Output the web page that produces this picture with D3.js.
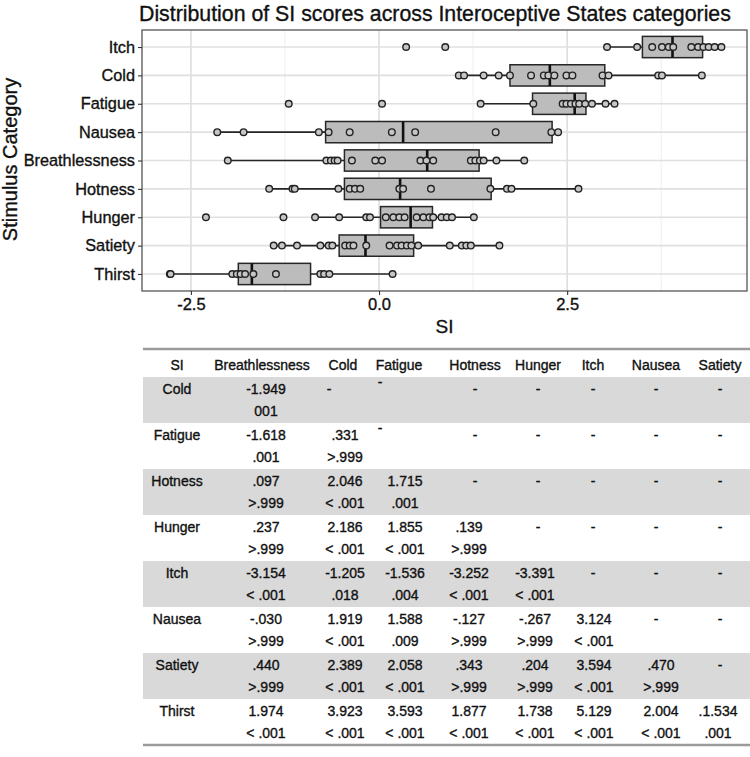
<!DOCTYPE html>
<html>
<head>
<meta charset="utf-8">
<script src="https://cdn.jsdelivr.net/npm/d3@7"></script>
<style>
  html, body { margin: 0; padding: 0; background: #ffffff; }
  svg { display: block; font-family: "Liberation Sans", Arial, sans-serif; }
  svg text { stroke: #111111; stroke-width: 0.35px; }
</style>
</head>
<body>
<svg id="chart" width="750" height="757"></svg>
<script>
// ---------------- DATA ----------------
const categories = ["Itch", "Cold", "Fatigue", "Nausea", "Breathlessness", "Hotness", "Hunger", "Satiety", "Thirst"];

// box statistics per category (same order as categories)
const boxQ1     = [3.50, 1.74, 2.04, -0.71, -0.46, -0.46, 0.02, -0.53, -1.87];
const boxMedian = [3.90, 2.27, 2.60,  0.32,  0.64,  0.28, 0.42, -0.18, -1.69];
const boxQ3     = [4.30, 3.00, 2.75,  2.30,  1.33,  1.49, 0.71,  0.46, -0.91];
const whiskerLo = [3.03, 1.06, 1.35, -2.15, -2.01, -1.46, -0.85, -1.40, -2.78];
const whiskerHi = [4.56, 4.29, 3.13,  2.38,  1.93,  2.65, 1.26,  1.60,  0.18];

// individual SI scores
const itchPts    = [0.36, 0.88, 3.03, 3.43, 3.63, 3.76, 3.85, 3.91, 4.15, 4.24, 4.31, 4.38, 4.46, 4.55];
const coldPts    = [1.06, 1.13, 1.39, 1.59, 1.74, 2.02, 2.19, 2.25, 2.33, 2.49, 2.57, 2.97, 3.05, 3.71, 3.76, 4.29];
const fatiguePts = [-1.20, 0.04, 1.35, 2.05, 2.44, 2.49, 2.55, 2.61, 2.66, 2.74, 2.83, 3.01, 3.13];
const nauseaPts  = [-2.15, -1.80, -0.80, -0.67, -0.39, 0.17, 0.48, 1.55, 2.29, 2.38];
const breathPts  = [-2.01, -0.70, -0.64, -0.59, -0.55, -0.36, -0.05, 0.04, 0.55, 0.63, 0.72, 1.22, 1.28, 1.34, 1.39, 1.56, 1.93];
const hotnessPts = [-1.46, -1.15, -1.12, -0.54, -0.39, -0.32, -0.25, 0.27, 0.32, 0.69, 1.48, 1.70, 1.76, 2.65];
const hungerPts  = [-2.30, -1.27, -0.85, -0.53, -0.17, -0.12, 0.09, 0.19, 0.27, 0.34, 0.50, 0.59, 0.67, 0.72, 0.83, 0.90, 0.97, 1.26];
const satietyPts = [-1.40, -1.29, -1.09, -0.78, -0.67, -0.62, -0.45, -0.39, -0.34, -0.17, 0.14, 0.24, 0.30, 0.37, 0.43, 0.52, 0.94, 1.10, 1.16, 1.22, 1.60];
const thirstPts  = [-2.78, -2.77, -1.95, -1.89, -1.84, -1.78, -1.67, -1.37, -0.78, -0.73, -0.66, 0.18];
const pointsByCategory = [itchPts, coldPts, fatiguePts, nauseaPts, breathPts, hotnessPts, hungerPts, satietyPts, thirstPts];

const xTicks = [-2.5, 0, 2.5, 5];
const xTickLabels = ["-2.5", "0.0", "2.5", "5.0"];
const xMinorTicks = [-3.75, -1.25, 1.25, 3.75];

const titleText = "Distribution of SI scores across Interoceptive States categories";
const xTitle = "SI";
const yTitle = "Stimulus Category";

// pairwise comparison table
const tableCorner = "SI";
const tableCols = ["Breathlessness", "Cold", "Fatigue", "Hotness", "Hunger", "Itch", "Nausea", "Satiety"];
const tableRows = ["Cold", "Fatigue", "Hotness", "Hunger", "Itch", "Nausea", "Satiety", "Thirst"];
const tableStats = [
  ["-1.949", "-", "-", "-", "-", "-", "-", "-"],
  ["-1.618", ".331", "-", "-", "-", "-", "-", "-"],
  [".097", "2.046", "1.715", "-", "-", "-", "-", "-"],
  [".237", "2.186", "1.855", ".139", "-", "-", "-", "-"],
  ["-3.154", "-1.205", "-1.536", "-3.252", "-3.391", "-", "-", "-"],
  ["-.030", "1.919", "1.588", "-.127", "-.267", "3.124", "-", "-"],
  [".440", "2.389", "2.058", ".343", ".204", "3.594", ".470", "-"],
  ["1.974", "3.923", "3.593", "1.877", "1.738", "5.129", "2.004", ".1.534"]
];
const tablePvals = [
  ["001", "", "", "", "", "", "", ""],
  [".001", ">.999", "", "", "", "", "", ""],
  [">.999", "< .001", ".001", "", "", "", "", ""],
  [">.999", "< .001", "< .001", ">.999", "", "", "", ""],
  ["< .001", ".018", ".004", "< .001", "< .001", "", "", ""],
  [">.999", "< .001", ".009", ">.999", ">.999", "< .001", "", ""],
  [">.999", "< .001", "< .001", ">.999", ">.999", "< .001", ">.999", ""],
  ["< .001", "< .001", "< .001", "< .001", "< .001", "< .001", "< .001", ".001"]
];

// ---------------- LAYOUT ----------------
const svg = d3.select("#chart");
const panel = { left: 142, right: 747, top: 30, bottom: 291 };

const x = d3.scaleLinear().domain([-3.15, 4.89]).range([panel.left, panel.right]);
const y = d3.scalePoint().domain(categories).range([panel.top, panel.bottom]).padding(0.6);
const boxH = y.step() * 0.75;

svg.append("defs").append("clipPath").attr("id", "pclip")
  .append("rect").attr("x", panel.left).attr("y", panel.top)
  .attr("width", panel.right - panel.left).attr("height", panel.bottom - panel.top);

const g = svg.append("g").attr("clip-path", "url(#pclip)");

g.append("rect").attr("x", panel.left).attr("y", panel.top)
  .attr("width", panel.right - panel.left).attr("height", panel.bottom - panel.top)
  .attr("fill", "#ffffff");

// minor grid
g.selectAll(".minor").data(xMinorTicks).enter().append("line")
  .attr("x1", d => x(d)).attr("x2", d => x(d))
  .attr("y1", panel.top).attr("y2", panel.bottom)
  .attr("stroke", "#eeeeee").attr("stroke-width", 1);
// major grid
g.selectAll(".majorx").data(xTicks).enter().append("line")
  .attr("x1", d => x(d)).attr("x2", d => x(d))
  .attr("y1", panel.top).attr("y2", panel.bottom)
  .attr("stroke", "#e0e0e0").attr("stroke-width", 1.7);
g.selectAll(".majory").data(categories).enter().append("line")
  .attr("x1", panel.left).attr("x2", panel.right)
  .attr("y1", d => y(d)).attr("y2", d => y(d))
  .attr("stroke", "#e0e0e0").attr("stroke-width", 1.7);

// boxplots
const boxes = categories.map((c, i) => ({
  c, q1: boxQ1[i], med: boxMedian[i], q3: boxQ3[i], lo: whiskerLo[i], hi: whiskerHi[i]
}));
const bg = g.selectAll(".box").data(boxes).enter().append("g");
bg.append("line").attr("x1", d => x(d.lo)).attr("x2", d => x(d.q1))
  .attr("y1", d => y(d.c)).attr("y2", d => y(d.c)).attr("stroke", "#262626").attr("stroke-width", 1.7);
bg.append("line").attr("x1", d => x(d.q3)).attr("x2", d => x(d.hi))
  .attr("y1", d => y(d.c)).attr("y2", d => y(d.c)).attr("stroke", "#262626").attr("stroke-width", 1.7);
bg.append("rect").attr("x", d => x(d.q1)).attr("width", d => x(d.q3) - x(d.q1))
  .attr("y", d => y(d.c) - boxH / 2).attr("height", boxH)
  .attr("fill", "#bcbcbc").attr("stroke", "#262626").attr("stroke-width", 1.5);
bg.append("line").attr("x1", d => x(d.med)).attr("x2", d => x(d.med))
  .attr("y1", d => y(d.c) - boxH / 2).attr("y2", d => y(d.c) + boxH / 2)
  .attr("stroke", "#111111").attr("stroke-width", 2.6);

// points
const pts = [];
categories.forEach((c, i) => pointsByCategory[i].forEach(v => pts.push({ c, v })));
g.selectAll(".pt").data(pts).enter().append("circle")
  .attr("cx", d => x(d.v)).attr("cy", d => y(d.c)).attr("r", 3.3)
  .attr("fill", "#c6c6c6").attr("stroke", "#222222").attr("stroke-width", 1.4);

// panel border
svg.append("rect").attr("x", panel.left).attr("y", panel.top)
  .attr("width", panel.right - panel.left).attr("height", panel.bottom - panel.top)
  .attr("fill", "none").attr("stroke", "#555555").attr("stroke-width", 1.3);

// axes
const xAxis = d3.axisBottom(x).tickValues(xTicks.filter(t => t >= x.domain()[0] && t <= x.domain()[1]))
  .tickFormat(d => xTickLabels[xTicks.indexOf(d)]).tickSize(4).tickPadding(3);
const xa = svg.append("g").attr("transform", `translate(0,${panel.bottom})`).call(xAxis);
xa.select(".domain").remove();
xa.selectAll(".tick line").attr("stroke", "#333333").attr("stroke-width", 1.1);
xa.selectAll(".tick text").attr("font-size", 16.5).attr("fill", "#111")
  .attr("font-family", "'Liberation Sans', Arial, sans-serif");

const yAxis = d3.axisLeft(y).tickSize(4).tickPadding(3);
const ya = svg.append("g").attr("transform", `translate(${panel.left},0)`).call(yAxis);
ya.select(".domain").remove();
ya.selectAll(".tick line").attr("stroke", "#333333").attr("stroke-width", 1.1);
ya.selectAll(".tick text").attr("font-size", 16.3).attr("fill", "#111")
  .attr("font-family", "'Liberation Sans', Arial, sans-serif");

// titles
svg.append("text").attr("x", 139).attr("y", 21).attr("font-size", 21.3).attr("fill", "#111")
  .text(titleText);
svg.append("text").attr("x", (panel.left + panel.right) / 2).attr("y", 333)
  .attr("text-anchor", "middle").attr("font-size", 19).attr("fill", "#111").text(xTitle);
svg.append("text").attr("transform", `translate(17,${(panel.top + panel.bottom) / 2 - 1}) rotate(-90)`)
  .attr("text-anchor", "middle").attr("font-size", 20).attr("fill", "#111").text(yTitle);

// ---------------- TABLE ----------------
const table = { left: 143, right: 750, top: 349, headerH: 28, rowH: 46 };
const headerX = [177, 262, 343, 399, 475, 538, 593, 656, 720]; // corner + columns
const valueX = [266, 345, 405, 469, 535, 594, 661, 718];
const tfont = 14;

const tg = svg.append("g").attr("font-size", tfont).attr("fill", "#111");

tg.selectAll(".band").data(tableRows).enter().append("rect")
  .attr("x", table.left).attr("width", table.right - table.left)
  .attr("y", (d, i) => table.top + table.headerH + i * table.rowH)
  .attr("height", table.rowH)
  .attr("fill", (d, i) => i % 2 === 0 ? "#d9d9d9" : "#ffffff");

tg.append("line").attr("x1", table.left).attr("x2", table.right)
  .attr("y1", table.top).attr("y2", table.top).attr("stroke", "#9a9a9a").attr("stroke-width", 2.5);
const tableBottom = table.top + table.headerH + tableRows.length * table.rowH;
tg.append("line").attr("x1", table.left).attr("x2", table.right)
  .attr("y1", tableBottom).attr("y2", tableBottom).attr("stroke", "#9a9a9a").attr("stroke-width", 2.5);

const headers = [tableCorner].concat(tableCols);
tg.selectAll(".hdr").data(headers).enter().append("text")
  .attr("x", (d, i) => headerX[i]).attr("y", table.top + 21)
  .attr("text-anchor", "middle").text(d => d);

tableRows.forEach((r, ri) => {
  const y0 = table.top + table.headerH + ri * table.rowH;
  tg.append("text").attr("x", headerX[0]).attr("y", y0 + 17).attr("text-anchor", "middle").text(r);
  tableStats[ri].forEach((s, ci) => {
    let dx = 0, dy = 0, xx = valueX[ci];
    if (s === "-") {
      xx = headerX[ci + 1];
      if (ri === 0 && ci === 1) dx = -14;
      if (ci === 2 && (ri === 0 || ri === 1)) { dx = -19; dy = -7; }
    }
    tg.append("text").attr("x", xx + dx).attr("y", y0 + 17 + dy)
      .attr("text-anchor", "middle").text(s);
  });
  tablePvals[ri].forEach((p, ci) => {
    if (!p) return;
    tg.append("text").attr("x", valueX[ci]).attr("y", y0 + 39)
      .attr("text-anchor", "middle").text(p);
  });
});
</script>
</body>
</html>
